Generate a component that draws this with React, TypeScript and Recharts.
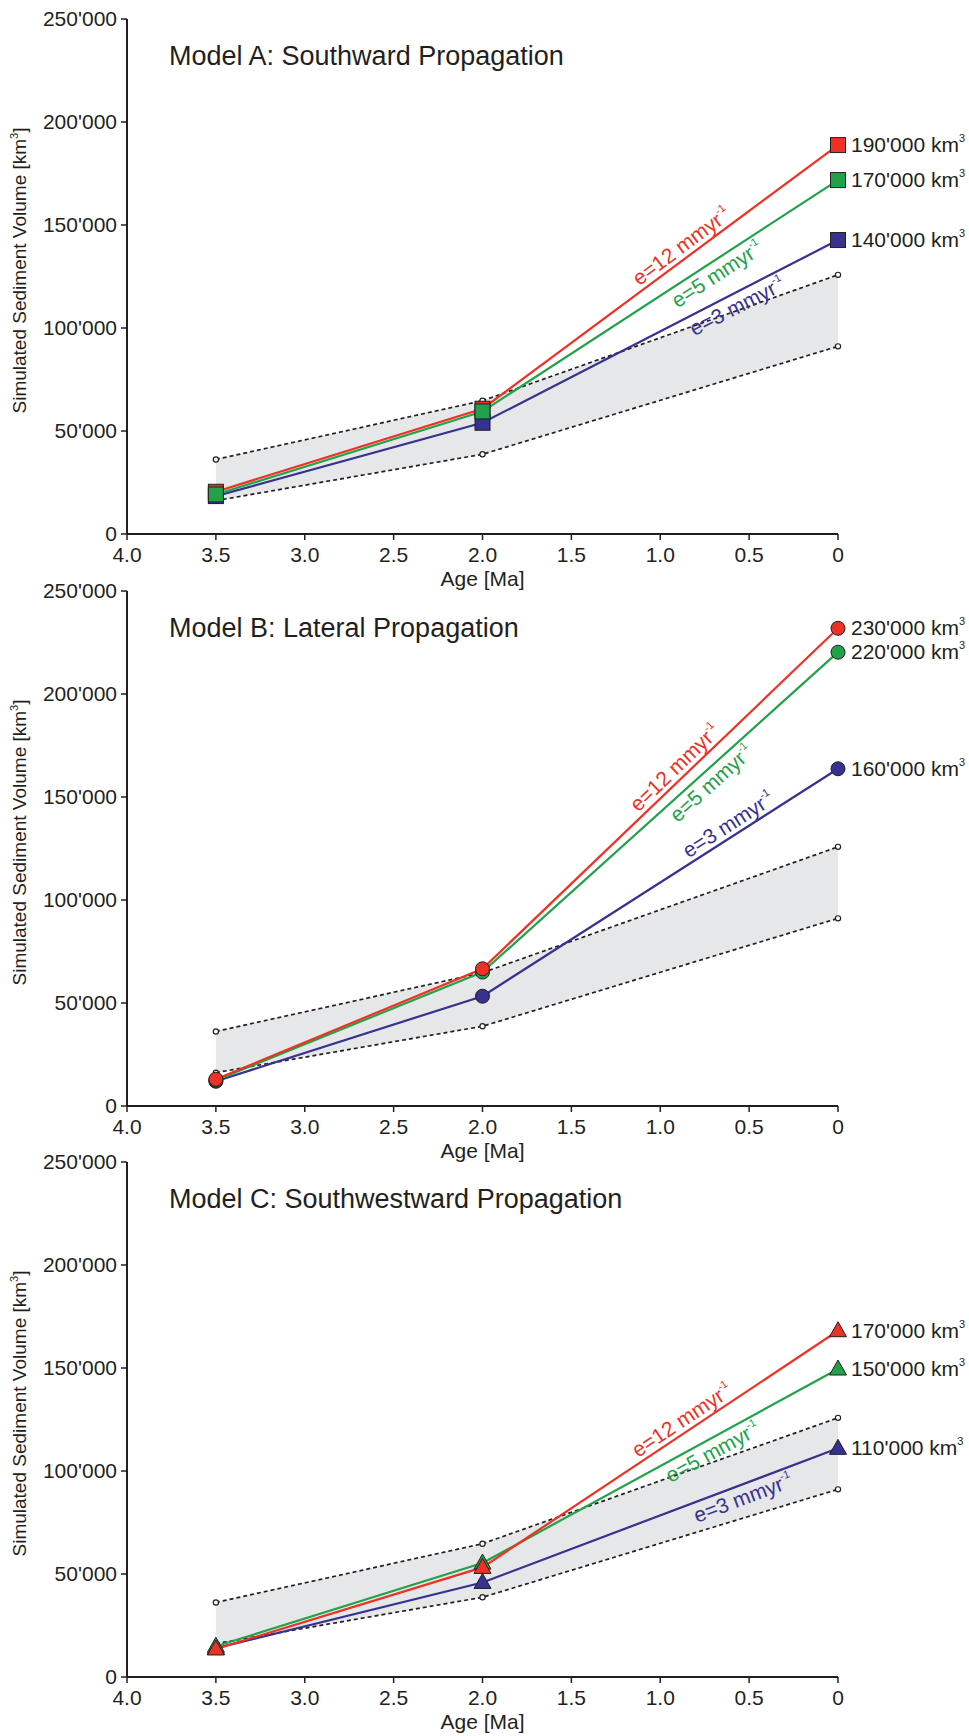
import React from 'react';
import { ComposedChart, Line, Area, XAxis, YAxis, ReferenceDot, Label } from 'recharts';

// ages of the three sample points (Ma)
const AGES = [3.5, 2.0, 0];

// observed envelope (grey band)
const ENV_LOW = [16200, 38700, 91100];
const ENV_HIGH = [36200, 64700, 125800];

// Model A: southward propagation
const A_RED = [20500, 60800, 188800];
const A_GREEN = [19200, 59500, 171800];
const A_BLUE = [18400, 54000, 142700];
const A_END_LABELS = ["190'000", "170'000", "140'000"];

// Model B: lateral propagation
const B_RED = [13000, 66600, 231900];
const B_GREEN = [12500, 65000, 220300];
const B_BLUE = [12000, 53300, 163700];
const B_END_LABELS = ["230'000", "220'000", "160'000"];

// Model C: southwestward propagation
const C_RED = [13600, 53200, 168100];
const C_GREEN = [14900, 55300, 149500];
const C_BLUE = [14000, 45900, 111000];
const C_END_LABELS = ["170'000", "150'000", "110'000"];

const RATE_LABELS = ['e=12 mmyr', 'e=5 mmyr', 'e=3 mmyr'];
const TITLES = ['Model A: Southward Propagation', 'Model B: Lateral Propagation', 'Model C: Southwestward Propagation'];

const X_TICKS = [0, 0.5, 1, 1.5, 2, 2.5, 3, 3.5, 4];
const Y_TICKS = [0, 50000, 100000, 150000, 200000, 250000];

const RED = '#ee3124';
const GREEN = '#21a24a';
const BLUE = '#37318f';
const INK = '#231f20';
const FONT = '"Liberation Sans", Arial, Helvetica, sans-serif';

const W = 969;
const H = 630;
const TOP = 19;
const PLOT_H = 515;
const LEFT = 127;
const RIGHT = 131;
const XAXIS_H = 60;
const PLOT_W = W - LEFT - RIGHT;
const X_MAX = 4;
const Y_MAX = 250000;

const fmtY = (v: number) => (v === 0 ? '0' : `${Math.round(v / 1000)}'000`);
const fmtX = (v: number) => (v === 0 ? '0' : v.toFixed(1));

type Shape = 'square' | 'circle' | 'triangle';

const Marker = ({ cx, cy, shape, fill }: { cx: number; cy: number; shape: Shape; fill: string }) => {
  if (cx == null || cy == null) return null;
  if (shape === 'square') {
    return <rect x={cx - 7.5} y={cy - 7.5} width={15} height={15} fill={fill} stroke={INK} strokeWidth={1} />;
  }
  if (shape === 'circle') {
    return <circle cx={cx} cy={cy} r={7} fill={fill} stroke={INK} strokeWidth={1} />;
  }
  return (
    <polygon
      points={`${cx},${cy - 9} ${cx - 8.5},${cy + 6} ${cx + 8.5},${cy + 6}`}
      fill={fill}
      stroke={INK}
      strokeWidth={1}
    />
  );
};

const vbCenter = (props: any) => {
  const vb = props.viewBox || {};
  return { x: (vb.x || 0) + (vb.width || 0) / 2, y: (vb.y || 0) + (vb.height || 0) / 2 };
};

// angle of the last segment on screen
const segAngle = (vals: number[]) => {
  const dx = ((AGES[1] - AGES[2]) / X_MAX) * PLOT_W;
  const dy = ((vals[2] - vals[1]) / Y_MAX) * PLOT_H;
  return (Math.atan2(dy, dx) * 180) / Math.PI;
};

interface SeriesDef {
  key: string;
  vals: number[];
  color: string;
  rate: string;
  end: string;
  t: number;
  side: 'above' | 'below';
}

interface PanelProps {
  title: string;
  shape: Shape;
  series: SeriesDef[]; // drawn in this order
  top: number;
}

const Panel = ({ title, shape, series, top }: PanelProps) => {
  const data = AGES.map((age, i) => {
    const row: any = { age, lo: ENV_LOW[i], hi: ENV_HIGH[i] };
    series.forEach((s) => (row[s.key] = s.vals[i]));
    return row;
  });
  const dashDot = { r: 2.6, fill: '#fff', stroke: INK, strokeWidth: 1.2, strokeDasharray: 'none' };

  return (
    <div style={{ position: 'absolute', left: 0, top, width: W, height: H }}>
      <ComposedChart width={W} height={H} data={data} margin={{ top: TOP, right: RIGHT, bottom: H - TOP - PLOT_H - XAXIS_H, left: 0 }}>
        <XAxis
          type="number"
          dataKey="age"
          domain={[0, X_MAX]}
          reversed
          ticks={X_TICKS}
          tickFormatter={fmtX}
          height={XAXIS_H}
          axisLine={{ stroke: INK, strokeWidth: 2 }}
          tickLine={{ stroke: INK, strokeWidth: 1.5 }}
          tickSize={6}
          tickMargin={7}
          tick={{ fill: INK, fontSize: 21, fontFamily: FONT }}
        >
          <Label value="Age [Ma]" position="insideBottom" offset={8} style={{ fill: INK, fontSize: 21, fontFamily: FONT }} />
        </XAxis>
        <YAxis
          type="number"
          domain={[0, Y_MAX]}
          ticks={Y_TICKS}
          tickFormatter={fmtY}
          width={LEFT}
          axisLine={{ stroke: INK, strokeWidth: 2 }}
          tickLine={{ stroke: INK, strokeWidth: 1.5 }}
          tickSize={6}
          tickMargin={4}
          tick={{ fill: INK, fontSize: 21, fontFamily: FONT }}
        >
          <Label
            content={(p: any) => {
              const vb = p.viewBox || {};
              const cy = (vb.y || TOP) + (vb.height || PLOT_H) / 2 - 6;
              return (
                <text
                  transform={`translate(26,${cy}) rotate(-90)`}
                  textAnchor="middle"
                  fill={INK}
                  fontSize={19}
                  fontFamily={FONT}
                >
                  Simulated Sediment Volume [km
                  <tspan fontSize={11} dy={-8}>3</tspan>
                  <tspan dy={8}>]</tspan>
                </text>
              );
            }}
          />
        </YAxis>

        <Area dataKey={(d: any) => [d.lo, d.hi]} fill="#e6e7e8" fillOpacity={1} stroke="none" isAnimationActive={false} />
        <Line dataKey="hi" stroke={INK} strokeWidth={1.7} strokeDasharray="4 3" dot={dashDot} activeDot={false} isAnimationActive={false} />
        <Line dataKey="lo" stroke={INK} strokeWidth={1.7} strokeDasharray="4 3" dot={dashDot} activeDot={false} isAnimationActive={false} />

        {series.map((s) => (
          <Line
            key={s.key}
            dataKey={s.key}
            stroke={s.color}
            strokeWidth={2.2}
            activeDot={false}
            isAnimationActive={false}
            dot={(p: any) => <Marker key={`${s.key}-${p.index}`} cx={p.cx} cy={p.cy} shape={shape} fill={s.color} />}
          />
        ))}

        {series.map((s) => {
          const ang = segAngle(s.vals);
          const x = AGES[1] + (AGES[2] - AGES[1]) * s.t;
          const y = s.vals[1] + (s.vals[2] - s.vals[1]) * s.t;
          return (
            <ReferenceDot
              key={`rate-${s.key}`}
              x={x}
              y={y}
              r={0}
              fill="none"
              stroke="none"
              label={(p: any) => {
                const c = vbCenter(p);
                return (
                  <g transform={`translate(${c.x},${c.y}) rotate(${-ang})`}>
                    <text x={0} y={s.side === 'above' ? -5 : 20} textAnchor="middle" fill={s.color} fontSize={21} fontFamily={FONT}>
                      {s.rate}
                      <tspan fontSize={11} dy={-10}>-1</tspan>
                    </text>
                  </g>
                );
              }}
            />
          );
        })}

        {series.map((s) => (
          <ReferenceDot
            key={`end-${s.key}`}
            x={AGES[2]}
            y={s.vals[2]}
            r={0}
            fill="none"
            stroke="none"
            label={(p: any) => {
              const c = vbCenter(p);
              return (
                <text x={c.x + 13} y={c.y + 7} fill={INK} fontSize={21} fontFamily={FONT}>
                  {s.end} km
                  <tspan fontSize={11} dy={-10}>3</tspan>
                </text>
              );
            }}
          />
        ))}
      </ComposedChart>
      <div
        style={{
          position: 'absolute',
          left: 169,
          top: 43,
          fontFamily: FONT,
          fontSize: 27,
          lineHeight: '27px',
          color: INK,
          whiteSpace: 'nowrap',
        }}
      >
        {title}
      </div>
    </div>
  );
};

const mk = (key: string, vals: number[], color: string, rate: string, end: string, t: number, side: 'above' | 'below'): SeriesDef => ({
  key,
  vals,
  color,
  rate,
  end,
  t,
  side,
});

export default function App() {
  const panelA = [
    mk('blue', A_BLUE, BLUE, RATE_LABELS[2], A_END_LABELS[2], 0.7, 'below'),
    mk('red', A_RED, RED, RATE_LABELS[0], A_END_LABELS[0], 0.58, 'above'),
    mk('green', A_GREEN, GREEN, RATE_LABELS[1], A_END_LABELS[1], 0.64, 'below'),
  ];
  const panelB = [
    mk('blue', B_BLUE, BLUE, RATE_LABELS[2], B_END_LABELS[2], 0.71, 'above'),
    mk('green', B_GREEN, GREEN, RATE_LABELS[1], B_END_LABELS[1], 0.62, 'below'),
    mk('red', B_RED, RED, RATE_LABELS[0], B_END_LABELS[0], 0.565, 'above'),
  ];
  const panelC = [
    mk('blue', C_BLUE, BLUE, RATE_LABELS[2], C_END_LABELS[2], 0.72, 'below'),
    mk('green', C_GREEN, GREEN, RATE_LABELS[1], C_END_LABELS[1], 0.63, 'below'),
    mk('red', C_RED, RED, RATE_LABELS[0], C_END_LABELS[0], 0.58, 'above'),
  ];

  return (
    <div style={{ position: 'absolute', left: 0, top: 0, width: W, height: 1736, overflow: 'hidden', background: '#fff' }}>
      <Panel title={TITLES[0]} shape="square" series={panelA} top={0} />
      <Panel title={TITLES[1]} shape="circle" series={panelB} top={572} />
      <Panel title={TITLES[2]} shape="triangle" series={panelC} top={1143} />
    </div>
  );
}
